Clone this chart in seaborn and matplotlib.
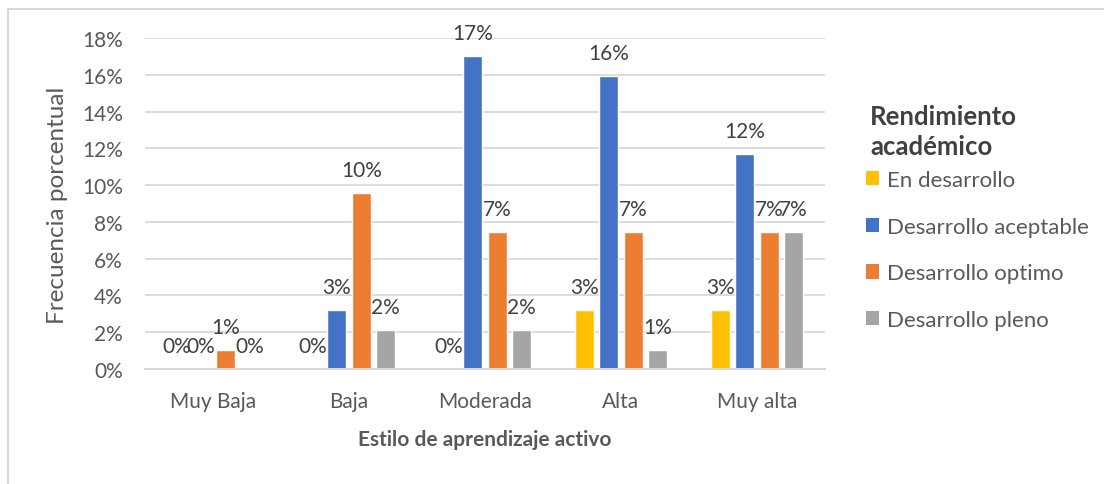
import matplotlib
matplotlib.use("Agg")
import matplotlib.pyplot as plt
from matplotlib.lines import Line2D
from matplotlib.patches import Patch
import seaborn as sns
import pandas as pd

categories = ["Muy Baja", "Baja", "Moderada", "Alta", "Muy alta"]
series_names = ["En desarrollo", "Desarrollo aceptable", "Desarrollo optimo", "Desarrollo pleno"]
en_desarrollo = [0.0, 0.0, 0.0, 3.19, 3.19]
desarrollo_aceptable = [0.0, 3.19, 17.02, 15.96, 11.70]
desarrollo_optimo = [1.06, 9.57, 7.45, 7.45, 7.45]
desarrollo_pleno = [0.0, 2.13, 2.13, 1.06, 7.45]
y_ticks = [0, 2, 4, 6, 8, 10, 12, 14, 16, 18]
colors = ["#FFC000", "#4472C4", "#ED7D31", "#A5A5A5"]

all_series = [en_desarrollo, desarrollo_aceptable, desarrollo_optimo, desarrollo_pleno]
rows = []
for name, vals in zip(series_names, all_series):
    for c, v in zip(categories, vals):
        rows.append({"Estilo": c, "Rendimiento": name, "valor": v / 100.0})
df = pd.DataFrame(rows)

sns.set_theme(style="white")
plt.rcParams["font.family"] = ["Lato", "DejaVu Sans"]

W, H = 1104, 485
fig = plt.figure(figsize=(W / 100, H / 100), dpi=100)
ax = fig.add_axes([145 / W, 1 - 370 / H, (825 - 145) / W, (370 - 39) / H])

sns.barplot(data=df, x="Estilo", y="valor", hue="Rendimiento",
            order=categories, hue_order=series_names, palette=colors,
            width=0.72, gap=0.22, ax=ax, legend=True, saturation=1,
            errorbar=None)

ax.set_ylim(0, 0.18)
ax.set_xlim(-0.5, len(categories) - 0.5)
ax.set_yticks([t / 100 for t in y_ticks])
ax.set_yticklabels([f"{t}%" for t in y_ticks])
ax.grid(axis="y", color="#D9D9D9", linewidth=1.3)
ax.set_axisbelow(True)
for s in ["top", "right", "left"]:
    ax.spines[s].set_visible(False)
ax.spines["bottom"].set_color("#D9D9D9")
ax.spines["bottom"].set_linewidth(1.5)
ax.tick_params(axis="both", length=0, labelsize=15, colors="#595959")
ax.tick_params(axis="x", pad=16)
ax.tick_params(axis="y", pad=16)

ax.set_xlabel("Estilo de aprendizaje activo", fontsize=15, fontweight="bold",
              color="#595959", labelpad=13)
ax.set_ylabel("")
fig.text(58 / W, 1 - 205 / H, "Frecuencia porcentual", rotation=90,
         ha="center", va="center", fontsize=17.5, color="#595959")

# data labels
for cont in ax.containers:
    for bar in cont:
        h = bar.get_height()
        ax.annotate(f"{round(h * 100):.0f}%",
                    (bar.get_x() + bar.get_width() / 2, h),
                    xytext=(0, 17), textcoords="offset pixels",
                    ha="center", va="baseline", fontsize=15, color="#404040")

# legend
ax.get_legend().remove()
handles = [Patch(facecolor=c, edgecolor="none") for c in colors]
leg = fig.legend(handles, series_names, loc="center left",
                 bbox_to_anchor=(866 / W, 1 - 251 / H), frameon=False,
                 fontsize=16, handlelength=0.6, handleheight=0.6,
                 handletextpad=0.35, labelspacing=1.2, borderpad=0,
                 borderaxespad=0)
for t in leg.get_texts():
    t.set_color("#595959")
fig.text(870 / W, 1 - 105 / H, "Rendimiento\nacadémico", ha="left", va="top",
         fontsize=18.5, fontweight="bold", color="#404040", linespacing=1.3)

# outer chart border (top and left visible)
fig.add_artist(Line2D([8 / W, 1.0], [1 - 10 / H, 1 - 10 / H], color="#D9D9D9",
                      linewidth=1.5, transform=fig.transFigure))
fig.add_artist(Line2D([8 / W, 8 / W], [0.0, 1 - 10 / H], color="#D9D9D9",
                      linewidth=1.5, transform=fig.transFigure))

fig.savefig("out.png", dpi=100)
